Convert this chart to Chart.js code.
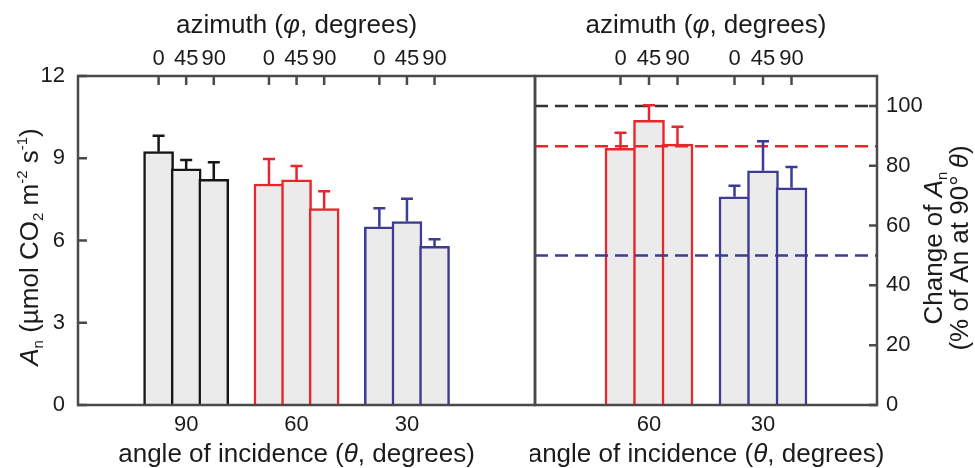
<!DOCTYPE html>
<html>
<head>
<meta charset="utf-8">
<script src="https://cdn.jsdelivr.net/npm/chart.js@4.4.1/dist/chart.umd.min.js"></script>
<style>
  body { margin: 0; background: #fff; }
  #wrap { position: relative; width: 975px; height: 468px; }
  canvas { position: absolute; top: 0; }
  #left { left: 0; }
  #right { left: 530px; }
</style>
</head>
<body>
<div id="wrap">
  <canvas id="left" width="540" height="468"></canvas>
  <canvas id="right" width="445" height="468"></canvas>
</div>
<script>
// datos
const azimuths = ['0', '45', '90'];

// panel izquierdo: An absoluto
const groupPosL = [1, 2, 3];
const thetaL = ['90', '60', '30'];
const meanL = [[9.24, 8.61, 8.23], [8.06, 8.21, 7.16], [6.50, 6.69, 5.79]];
const seL = [[0.58, 0.33, 0.62], [0.91, 0.51, 0.64], [0.68, 0.83, 0.26]];
const ticksL = [0, 3, 6, 9, 12];

// panel derecho: % respecto a 90°
const groupPosR = [1, 2];
const thetaR = ['60', '30'];
const meanR = [[85.8, 95.2, 87.2], [69.6, 78.3, 72.6]];
const seR = [[5.2, 5.0, 5.8], [3.7, 9.9, 7.0]];
const refR = [100, 86.5, 50];
const ticksR = [0, 20, 40, 60, 80, 100];

// estilos
const FAMILY = '"Liberation Sans", Arial, sans-serif';
const BLACK = '#161616', RED = '#e8262b', BLUE = '#3d3b94';
const FILL = '#eaebea';
const FRAME = '#4a4a4a';
const TXT = '#1b1b1b';
const colorsL = [BLACK, RED, BLUE];
const colorsR = [RED, BLUE];
const refColors = ['#333333', RED, BLUE];
const AZ_STEP = 0.25;
const TITLE_SIZE = 26;
const TICK_SIZE = 22;

function barPoints(pos, means) {
    const pts = [];
    pos.forEach((p, i) => means[i].forEach((v, j) => pts.push({ x: p + (j - 1) * AZ_STEP, y: v })));
    return pts;
}
function perBar(pos, arr) {
    const out = [];
    pos.forEach((p, i) => azimuths.forEach(() => out.push(arr[i])));
    return out;
}

// texto con cursiva / subíndice / superíndice
function drawRich(ctx, parts, x, y, size, rot) {
    const fontFor = s => (s === 'i' ? 'italic ' : '') +
        ((s === 'sub' || s === 'sup') ? Math.round(size * 0.58) : size) + 'px ' + FAMILY;
    ctx.save();
    ctx.translate(x, y);
    ctx.rotate(rot || 0);
    let w = 0;
    parts.forEach(p => { ctx.font = fontFor(p[1]); w += ctx.measureText(p[0]).width; });
    let cx = -w / 2;
    ctx.textAlign = 'left';
    ctx.textBaseline = 'alphabetic';
    ctx.fillStyle = TXT;
    parts.forEach(p => {
        ctx.font = fontFor(p[1]);
        const dy = p[1] === 'sub' ? size * 0.2 : p[1] === 'sup' ? -size * 0.42 : 0;
        ctx.fillText(p[0], cx, dy);
        cx += ctx.measureText(p[0]).width;
    });
    ctx.restore();
}

// barras de error
const errorBars = {
    id: 'errorBars',
    afterDatasetsDraw(chart) {
        const ctx = chart.ctx;
        chart.data.datasets.forEach((ds, di) => {
            if (!ds.errors) return;
            const meta = chart.getDatasetMeta(di);
            const ys = chart.scales[ds.yAxisID];
            meta.data.forEach((bar, k) => {
                const top = ys.getPixelForValue(ds.data[k].y + ds.errors[k]);
                ctx.save();
                ctx.strokeStyle = ds.borderColor[k];
                ctx.lineWidth = 2.5;
                ctx.beginPath();
                ctx.moveTo(bar.x, bar.y);
                ctx.lineTo(bar.x, top);
                ctx.moveTo(bar.x - 6, top);
                ctx.lineTo(bar.x + 6, top);
                ctx.stroke();
                ctx.restore();
            });
        });
    }
};

// marco, ticks interiores y títulos
function framePlugin(side) {
    return {
        id: 'frame',
        afterDraw(chart) {
            const ctx = chart.ctx;
            const a = chart.chartArea;
            const x2 = chart.scales.x2;
            const ys = chart.scales.y;
            ctx.save();
            ctx.strokeStyle = FRAME;
            ctx.lineWidth = 2.5;
            ctx.strokeRect(a.left, a.top, a.right - a.left, a.bottom - a.top);
            ctx.beginPath();
            x2.ticks.forEach(t => {
                const px = x2.getPixelForValue(t.value);
                ctx.moveTo(px, a.top);
                ctx.lineTo(px, a.top + 9);
            });
            ys.ticks.forEach(t => {
                const py = ys.getPixelForValue(t.value);
                if (side === 'left') { ctx.moveTo(a.left, py); ctx.lineTo(a.left + 9, py); }
                else { ctx.moveTo(a.right, py); ctx.lineTo(a.right - 8, py); }
            });
            ctx.stroke();
            ctx.restore();

            const pos = side === 'left' ? groupPosL : groupPosR;
            const mid = chart.scales.x.getPixelForValue((pos[0] + pos[pos.length - 1]) / 2);
            drawRich(ctx, [['azimuth (', ''], ['φ', 'i'], [', degrees)', '']], mid, 33, TITLE_SIZE);
            drawRich(ctx, [['angle of incidence (', ''], ['θ', 'i'], [', degrees)', '']], mid, 462, TITLE_SIZE);
            if (side === 'left') {
                drawRich(ctx, [['A', 'i'], ['n', 'sub'], [' (µmol CO', ''], ['2', 'sub'], [' m', ''],
                    ['-2', 'sup'], [' s', ''], ['-1', 'sup'], [')', '']], 38, 247, TITLE_SIZE, -Math.PI / 2);
            } else {
                drawRich(ctx, [['Change of ', ''], ['A', 'i'], ['n', 'sub']], 412, 248, TITLE_SIZE, -Math.PI / 2);
                drawRich(ctx, [['(% of An at 90° ', ''], ['θ', 'i'], [')', '']],
                    438, 248, TITLE_SIZE, -Math.PI / 2);
            }
        }
    };
}

function xScales(pos, labels, min, max) {
    const tickFont = { family: FAMILY, size: TICK_SIZE };
    return {
        x: {
            type: 'linear', position: 'bottom', min: min, max: max, offset: false,
            afterBuildTicks: s => { s.ticks = pos.map(v => ({ value: v })); },
            afterFit: s => { s.height = 63; },
            ticks: { callback: (v, i) => labels[i], font: tickFont, color: TXT, padding: 7, autoSkip: false, maxRotation: 0 },
            grid: { display: false, drawTicks: false },
            border: { display: false }
        },
        x2: {
            type: 'linear', position: 'top', min: min, max: max, offset: false,
            afterBuildTicks: s => {
                const t = [];
                pos.forEach(p => azimuths.forEach((a, j) => t.push({ value: p + (j - 1) * AZ_STEP })));
                s.ticks = t;
            },
            afterFit: s => { s.height = 76; },
            ticks: { callback: (v, i) => azimuths[i % azimuths.length], font: tickFont, color: TXT, padding: 4, autoSkip: false, maxRotation: 0 },
            grid: { display: false, drawTicks: false },
            border: { display: false }
        }
    };
}

// panel izquierdo
const scalesL = xScales(groupPosL, thetaL, 0.02, 4.16);
scalesL.y = {
    position: 'left', min: 0, max: 12,
    afterBuildTicks: s => { s.ticks = ticksL.map(v => ({ value: v })); },
    afterFit: s => { s.width = 78; },
    ticks: { font: { family: FAMILY, size: TICK_SIZE }, color: TXT, padding: 13 },
    grid: { display: false, drawTicks: false },
    border: { display: false }
};

new Chart(document.getElementById('left'), {
    type: 'bar',
    data: {
        datasets: [{
            data: barPoints(groupPosL, meanL),
            errors: seL.flat(),
            backgroundColor: FILL,
            borderColor: perBar(groupPosL, colorsL),
            borderWidth: 2.5,
            barThickness: 30,
            xAxisID: 'x', yAxisID: 'y'
        }]
    },
    options: {
        responsive: false, animation: false, devicePixelRatio: 1,
        layout: { padding: { left: 0, right: 5, top: 0, bottom: 0 } },
        plugins: { legend: { display: false }, tooltip: { enabled: false } },
        scales: scalesL
    },
    plugins: [errorBars, framePlugin('left')]
});

// panel derecho
const scalesR = xScales(groupPosR, thetaR, 0, 3);
scalesR.y = {
    position: 'right', min: 0, max: 110,
    afterBuildTicks: s => { s.ticks = ticksR.map(v => ({ value: v })); },
    afterFit: s => { s.width = 98; },
    ticks: { font: { family: FAMILY, size: TICK_SIZE }, color: TXT, padding: 9 },
    grid: { display: false, drawTicks: false },
    border: { display: false }
};

const refSets = refR.map((v, i) => ({
    type: 'line',
    data: [{ x: 0, y: v }, { x: 3, y: v }],
    borderColor: refColors[i],
    borderWidth: 2.5,
    borderDash: [13, 7],
    pointRadius: 0,
    fill: false,
    order: 0,
    xAxisID: 'x', yAxisID: 'y'
}));

new Chart(document.getElementById('right'), {
    type: 'bar',
    data: {
        datasets: [{
            data: barPoints(groupPosR, meanR),
            errors: seR.flat(),
            backgroundColor: FILL,
            borderColor: perBar(groupPosR, colorsR),
            borderWidth: 2.5,
            barThickness: 31,
            order: 1,
            xAxisID: 'x', yAxisID: 'y'
        }].concat(refSets)
    },
    options: {
        responsive: false, animation: false, devicePixelRatio: 1,
        layout: { padding: { left: 5, right: 0, top: 0, bottom: 0 } },
        plugins: { legend: { display: false }, tooltip: { enabled: false } },
        scales: scalesR
    },
    plugins: [errorBars, framePlugin('right')]
});
</script>
</body>
</html>
